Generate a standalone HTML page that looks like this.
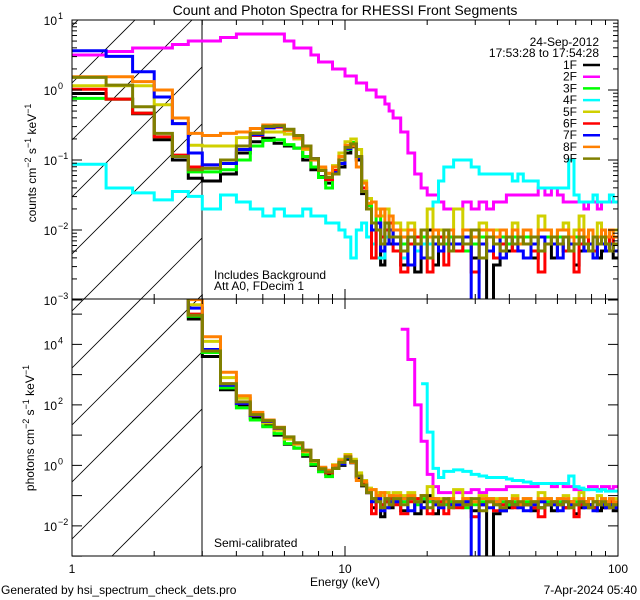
<!DOCTYPE html>
<html><head><meta charset="utf-8"><style>
html,body{margin:0;padding:0;background:#fff;width:640px;height:600px;overflow:hidden;}
svg{display:block;font-family:"Liberation Sans",sans-serif;overflow:hidden;}
</style></head><body>
<svg id="chart" width="640" height="600" viewBox="0 0 640 600" xmlns="http://www.w3.org/2000/svg">
<defs>
<clipPath id="clipTop"><rect x="72" y="20" width="546" height="279"/></clipPath>
<clipPath id="clipBot"><rect x="72" y="299" width="546" height="257"/></clipPath>
<clipPath id="clipHatch"><rect x="72" y="20" width="130" height="536"/></clipPath>
</defs>
<rect width="640" height="600" fill="#fff"/>
<text x="345" y="15" font-size="14" text-anchor="middle">Count and Photon Spectra for RHESSI Front Segments</text>
<g id="hatch" clip-path="url(#clipHatch)"></g>
<line x1="202" y1="20" x2="202" y2="556" stroke="#000" stroke-width="1"/>
<g id="seriesTop" clip-path="url(#clipTop)"></g>
<g id="seriesBot" clip-path="url(#clipBot)"></g>
<g id="axes"></g>
<text x="214" y="279" font-size="12">Includes Background</text>
<text x="214" y="290" font-size="12">Att A0, FDecim 1</text>
<text x="214" y="547" font-size="12">Semi-calibrated</text>
<text x="599" y="46" font-size="12" text-anchor="end">24-Sep-2012</text>
<text x="599" y="57" font-size="12" text-anchor="end">17:53:28 to 17:54:28</text>
<g id="legend"></g>
<text transform="translate(36,163) rotate(-90)" font-size="12" text-anchor="middle">counts cm<tspan dy="-5" font-size="9">−2</tspan><tspan dy="5"> s</tspan><tspan dy="-5" font-size="9">−1</tspan><tspan dy="5"> keV</tspan><tspan dy="-5" font-size="9">−1</tspan></text>
<text transform="translate(34,428) rotate(-90)" font-size="12" text-anchor="middle">photons cm<tspan dy="-5" font-size="9">−2</tspan><tspan dy="5"> s</tspan><tspan dy="-5" font-size="9">−1</tspan><tspan dy="5"> keV</tspan><tspan dy="-5" font-size="9">−1</tspan></text>
<text x="345" y="586" font-size="12" text-anchor="middle">Energy (keV)</text>
<text x="1" y="594" font-size="12">Generated by hsi_spectrum_check_dets.pro</text>
<text x="637" y="594" font-size="12" text-anchor="end">7-Apr-2024 05:40</text>
</svg>
<script>
// energy bin edges (keV)
const edges = [1,1.333,1.667,2,2.333,2.667,3,3.5,4,4.5,5,5.5,6,6.5,7,7.5,8,8.5,9,9.5,10,10.5,11,11.5,12,12.5,13,13.5,14,14.5,15,16,17,18,19,20,21,22,23,24,25,27,29,31,33,35,37,39,41,43,45,48,51,54,57,60,63,66,69,72,75,78,81,84,87,90,93,96,100];
const detNames = ["1F","2F","3F","4F","5F","6F","7F","8F","9F"];
const detColors = ["#000000","#ff00ff","#00ff00","#00ffff","#d0d000","#ff0000","#0000ff","#ff8000","#808000"];
// count spectra, log10 values in tenths (counts cm-2 s-1 keV-1)
const counts1F = [-0.5,-1.3,-3.4,-7.1,-10,-12.6, -13,-12,-9,-7.4,-6.9,-7.6,-8,-8.3,-10,-11.4,-12.4,-13.3,-12,-11,-9,-8.1,-10,-14.8,-17,-22,-19,-25,-20,-22, -22,-25,-21,-26,-22,-20,-25,-22,-21,-21, -22,-21,-24,-22,-40,-25,-24,-23,-22,-22, -22,-24,-23,-22,-24,-22,-23,-22,-25,-23,-22,-22,-23,-24,-23,-22,-22,-24];
const counts2F = [5,5.5,6,6,6.5,7, 7,7.5,8,8,8,8,7,6,6,5,4,4,3,3,2,2,1,1,0,0,-1,-1,-2,-3, -4,-6,-9,-12,-14,-15,-15,-16,-17,-17, -17,-16,-17,-16,-17,-16,-16,-15,-15,-15, -15,-15,-14,-15,-14,-15,-16,-16,-16,-16,-17,-16,-16,-17,-16,-16,-16,-16];
const counts3F = [-1.2,-1.3,-3.3,-6.7,-9.5,-11.7, -11.7,-11.4,-10,-8,-7.2,-7.1,-7.8,-8.3,-9.5,-11,-12.5,-14,-12,-10.5,-8.5,-7.5,-9.5,-14,-16.5,-19,-18,-21,-19,-20, -21,-22,-20,-23,-21,-22,-20,-21,-22,-21, -21,-23,-22,-21,-20,-22,-21,-22,-21,-22, -21,-22,-21,-21,-22,-21,-21,-22,-21,-22,-21,-22,-21,-22,-21,-22,-21,-22];
const counts4F = [-10.6,-14,-14.7,-15.7,-14.5,-15.2, -17,-15,-16,-17,-18,-17,-18,-18,-17,-18,-18,-19,-19,-20,-21,-24,-20,-19,-21,-22,-24,-24,-21,-21, -22,-24,-22,-23,-22,-22,-16,-13,-11,-11, -10,-10,-11,-12,-12,-12,-12,-12,-13,-12, -13,-13,-14,-14,-14,-14,-14,-10,-15,-16,-16,-16,-15,-16,-16,-16,-15,-16];
const counts5F = [0.6,0.6,0.6,-2.1,-4.8,-7.9, -8,-8,-6.8,-6.1,-6,-6,-6.3,-7,-8.5,-10,-11.2,-12,-10.8,-9,-7.4,-7,-8.5,-13,-15.5,-16,-17,-18,-17,-18, -19,-20,-19,-21,-20,-17,-21,-20,-21,-20, -17,-20,-21,-19,-21,-20,-20,-21,-19,-21, -20,-21,-18,-20,-21,-20,-19,-21,-20,-18,-21,-20,-21,-19,-20,-21,-20,-20];
const counts6F = [0.1,-1.3,-3.3,-6.7,-9.3,-11, -10.7,-10,-8.5,-6.5,-5.4,-5.3,-5.7,-6.6,-8,-9.8,-11.5,-12.8,-11.5,-10,-8.2,-7.8,-9.5,-14,-17,-24,-19,-21,-20,-19, -23,-26,-22,-21,-24,-26,-22,-21,-25,-22, -23,-22,-26,-22,-21,-24,-22,-21,-23,-22, -22,-23,-26,-22,-21,-22,-23,-21,-26,-22,-21,-22,-23,-21,-22,-23,-21,-22];
const counts7F = [5.6,4.8,2.6,-1,-4.8,-9, -10.7,-10.5,-8.5,-6.4,-5.4,-5.2,-5.7,-6.6,-8.2,-9.8,-11.5,-12.5,-11.8,-10.5,-8.4,-7.8,-9.7,-14.5,-17,-20,-19,-23,-22,-20, -22,-21,-25,-22,-24,-21,-22,-23,-21,-22, -22,-21,-40,-22,-23,-21,-24,-21,-22,-23, -24,-22,-21,-22,-22,-24,-21,-22,-22,-21,-23,-22,-24,-21,-22,-23,-22,-23];
const counts8F = [1.9,1.9,1.2,0,-4,-6.2, -6.5,-6.2,-6,-5.5,-5,-5,-5.8,-6.8,-8.3,-10,-11,-11.9,-11,-9.5,-7.9,-8,-11,-13.3,-16.2,-16,-18,-17,-19,-18, -20,-21,-20,-22,-20,-21,-20,-22,-21,-20, -21,-20,-21,-20,-20,-21,-20,-21,-20,-22, -20,-21,-20,-20,-21,-20,-20,-21,-22,-20,-21,-20,-21,-21,-20,-21,-20,-21];
const counts9F = [1.8,0.7,-2.4,-6.2,-9.5,-11.4, -11.2,-10,-8,-6.2,-5.2,-5.1,-5.6,-6.5,-8,-9.8,-11.5,-12.5,-12,-10,-8.2,-7.7,-9.5,-14.5,-17,-19,-20,-22,-19,-21, -21,-23,-21,-22,-20,-24,-21,-22,-20,-23, -21,-22,-20,-24,-21,-22,-23,-21,-22,-21, -22,-21,-23,-22,-21,-22,-21,-23,-22,-21,-22,-23,-21,-22,-21,-22,-23,-22];
// semi-calibration factor, log10 tenths (photons per count)
const convFactor = [80,80,80,80,80,61, 49,37,29,23,20,17.6,15,14,13,11.4,10.4,10.3,11,11,11,9,6,8,8,8,8,8,8,8, 10,10,10,10,10,10,9,9,9,9, 9,9,9,9,9,9,9,9,9,9, 9,9,9,9,9,9,9,9,9,9,9,9,9,9,9,9,9,9];
// photon spectra for 2F and 4F (log10 tenths), null where not plotted
const photons2F = [null,null,null,null,null,null, null,null,null,null,null,null,null,null,null,null,null,null,null,null,null,null,null,null,null,null,null,null,null,null, null,45,35,20,8,-3,-7,-9,-9,-9, -9,-9,-8,-9,-8,-8,-8,-7,-7,-7, -7,-7,-6,-6,-7,-6,-7,-7,-8,-8,-8,-7,-7,-8,-7,-7,-8,-7];
const photons4F = [null,null,null,null,null,null, null,null,null,null,null,null,null,null,null,null,null,null,null,null,null,null,null,null,null,null,null,null,null,null, null,null,null,null,27,11,-1,-4,-2,-2, -1.5,-2,-3,-3.5,-4,-4,-4,-4.5,-5,-5, -5.5,-6,-6,-6,-6,-6,-6,-3.5,-7,-7.5,-8,-8,-8,-8.5,-8,-8.5,-8.5,-8.5];
const topTickExps = [-3,-2,-1,0,1];
const botTickExps = [-2,0,2,4];
const xTickLabels = [1,10,100];

const countSeries = [counts1F,counts2F,counts3F,counts4F,counts5F,counts6F,counts7F,counts8F,counts9F];
const NS = "http://www.w3.org/2000/svg";
const X0=72, X1=618, TOP0=20, TOP1=299, BOT1=556;
function xs(e){ return X0 + (X1-X0)/2*Math.log10(e); }
function yTop(l){ return TOP0 + 70*(1-l); }
function yBot(l){ return TOP1 + 30.25*(5.5-l); }
function mk(tag, attrs, parent){ const el=document.createElementNS(NS,tag); for(const k in attrs) el.setAttribute(k,attrs[k]); parent.appendChild(el); return el; }

function stepPath(vals, yfun, ymin, ymax){
  let d="", prev=false;
  for(let i=0;i<vals.length;i++){
    const v=vals[i];
    if(v===null||v===undefined){ prev=false; continue; }
    let y=yfun(v/10); y=Math.max(ymin,Math.min(ymax,y));
    const xa=xs(edges[i]).toFixed(1), xb=xs(edges[i+1]).toFixed(1);
    d += (prev?"L":"M")+xa+" "+y.toFixed(1)+"L"+xb+" "+y.toFixed(1);
    prev=true;
  }
  return d;
}

// hatch
const hatch=document.getElementById('hatch');
for(let k=-3;k<10;k++){
  const y0 = 83 + 57*k;
  const ln=mk('line',{x1:X0,y1:y0,x2:X0+140,y2:y0-140,stroke:'#000','stroke-width':0.8},hatch);
  
  
}

const gT=document.getElementById('seriesTop'), gB=document.getElementById('seriesBot');
for(let s=0;s<9;s++){
  const p=mk('path',{d:stepPath(countSeries[s],yTop,TOP0-3,TOP1+3),fill:'none',stroke:detColors[s],'stroke-width':3},gT);
  
  
  let ph;
  if(s===1) ph=photons2F;
  else if(s===3) ph=photons4F;
  else ph=countSeries[s].map((v,i)=>v+convFactor[i]);
  const q=mk('path',{d:stepPath(ph,yBot,TOP1-3,BOT1+3),fill:'none',stroke:detColors[s],'stroke-width':3},gB);
  
  
}

// axes
const ax=document.getElementById('axes');
for(const [y0,y1] of [[TOP0,TOP1],[TOP1,BOT1]]){
  const r=mk('rect',{x:X0,y:y0,width:X1-X0,height:y1-y0,fill:'none',stroke:'#000','stroke-width':1},ax);
  
  
}
for(let dec=0;dec<2;dec++){
  for(let m=1;m<=10;m++){
    const e=Math.pow(10,dec)*m; if(m===10 && dec===0) continue;
    const x=xs(e), len=(m===1||m===10)?10:5;
    for(const [yb,dir] of [[TOP0,1],[TOP1,-1],[TOP1,1],[BOT1,-1]]){
      mk('line',{x1:x,y1:yb,x2:x,y2:yb+dir*len,stroke:'#000','stroke-width':1},ax);
    }
  }
}
xTickLabels.forEach(v=>{
  const t=mk('text',{x:xs(v),y:573,'font-size':12,'text-anchor':'middle'},ax);
  t.textContent=String(v);
  
  
});
for(let ex=-3;ex<=1;ex++){
  for(let m=1;m<10;m++){
    if(ex===1 && m>1) break;
    const l=ex+Math.log10(m), y=yTop(l), len=m===1?10:5;
    mk('line',{x1:X0,y1:y,x2:X0+len,y2:y,stroke:'#000'},ax);
    mk('line',{x1:X1,y1:y,x2:X1-len,y2:y,stroke:'#000'},ax);
  }
}
topTickExps.forEach(ex=>{
  const y=yTop(ex);
  const t=mk('text',{x:57,y:y+5,'font-size':12,'text-anchor':'end'},ax);
  t.textContent='10';
  
  
  const s=mk('text',{x:58,y:y-1,'font-size':9},ax);
  s.textContent=String(ex).replace('-','−');
  
  
});
for(let ex=-3;ex<=5;ex++){
  const y=yBot(ex);
  mk('line',{x1:X0,y1:y,x2:X0+10,y2:y,stroke:'#000'},ax);
  mk('line',{x1:X1,y1:y,x2:X1-10,y2:y,stroke:'#000'},ax);
}
botTickExps.forEach(ex=>{
  const y=yBot(ex);
  const t=mk('text',{x:57,y:y+5,'font-size':12,'text-anchor':'end'},ax);
  t.textContent='10';
  
  
  const s=mk('text',{x:58,y:y-1,'font-size':9},ax);
  s.textContent=String(ex).replace('-','−');
  
  
});
const lg=document.getElementById('legend');
for(let s=0;s<9;s++){
  const y=69+11.7*s;
  const t=mk('text',{x:577,y:y,'font-size':12,'text-anchor':'end'},lg);
  t.textContent=detNames[s];
  
  
  const l=mk('line',{x1:583,y1:y-4,x2:600,y2:y-4,stroke:detColors[s],'stroke-width':2.5},lg);
  
  
}
</script>
</body></html>
